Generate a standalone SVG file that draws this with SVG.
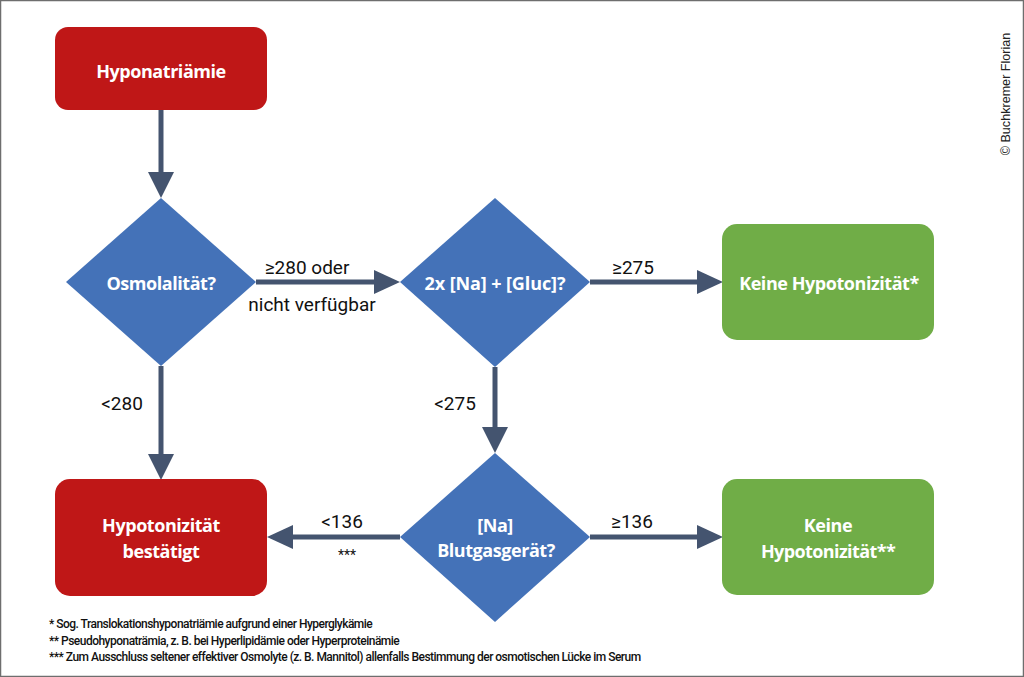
<svg xmlns="http://www.w3.org/2000/svg" width="1024" height="677" viewBox="0 0 1024 677">
<style>
text{font-family:"Roboto","Liberation Sans",sans-serif;text-anchor:middle}
.w{fill:#fff;font-weight:700;font-size:18px;font-family:"Open Sans","Liberation Sans",sans-serif;letter-spacing:-.45px}
.l{fill:#111;font-size:19px}
.f{fill:#111;font-size:12px;font-weight:500;text-anchor:start;letter-spacing:-.52px}
.red{fill:#bf1717}.grn{fill:#70ad47}.blu{fill:#4472b8}
.c{stroke:#44546f;stroke-width:5;fill:none}
.h{fill:#44546f}
</style>
<rect x="0.5" y="0.5" width="1023" height="676" fill="#fff" stroke="#6e6e6e" stroke-width="1.5"/>
<g id="connectors">
<path class="c" d="M161 110V174"/><path class="h" d="M148 172H174L161 198Z"/>
<path class="c" d="M161 366V455"/><path class="h" d="M148 454H174L161 480Z"/>
<path class="c" d="M256 282H375"/><path class="h" d="M374 270V294L400 282Z"/>
<path class="c" d="M590 282H698"/><path class="h" d="M697 270V294L723 282Z"/>
<path class="c" d="M495 367V429"/><path class="h" d="M482 427H508L495 453Z"/>
<path class="c" d="M400 537H291"/><path class="h" d="M293 525V549L267 537Z"/>
<path class="c" d="M590 537H698"/><path class="h" d="M697 525V549L723 537Z"/>
</g>
<g id="n1"><rect class="red" x="55" y="27" width="212" height="83" rx="13"/><text class="w" x="161" y="78">Hyponatriämie</text></g>
<g id="n2"><path class="blu" d="M161 198L256 282L161 366L66 282Z"/><text class="w" x="161" y="290">Osmolalität?</text></g>
<g id="n3"><path class="blu" d="M495 198L590 282L495 367L400 282Z"/><text class="w" x="495" y="290" style="letter-spacing:-.1px">2x [Na] + [Gluc]?</text></g>
<g id="n4"><rect class="grn" x="722" y="224" width="212" height="116" rx="15"/><text class="w" x="829" y="290">Keine Hypotonizität*</text></g>
<g id="n5"><rect class="red" x="55" y="479" width="212" height="117" rx="15"/><text class="w" x="161" y="532">Hypotonizität</text><text class="w" x="161" y="558">bestätigt</text></g>
<g id="n6"><path class="blu" d="M495 453L590 537L495 622L400 537Z"/><text class="w" x="495" y="532">[Na]</text><text class="w" x="496" y="557">Blutgasgerät?</text></g>
<g id="n7"><rect class="grn" x="722" y="479" width="212" height="116" rx="15"/><text class="w" x="828" y="532">Keine</text><text class="w" x="828" y="558" style="letter-spacing:-.6px">Hypotonizität**</text></g>
<g id="labels">
<text class="l" x="307" y="274">≥280 oder</text>
<text class="l" x="312" y="311">nicht verfügbar</text>
<text class="l" x="633" y="274">≥275</text>
<text class="l" x="122" y="410">&lt;280</text>
<text class="l" x="455" y="410">&lt;275</text>
<text class="l" x="342" y="528">&lt;136</text>
<text class="l" x="347" y="560" style="font-size:14px">***</text>
<text class="l" x="632" y="528">≥136</text>
<text class="f" x="49" y="628">* Sog. Translokationshyponatriämie aufgrund einer Hyperglykämie</text>
<text class="f" x="49" y="645">** Pseudohyponaträmia, z. B. bei Hyperlipidämie oder Hyperproteinämie</text>
<text class="f" x="49" y="661">*** Zum Ausschluss seltener effektiver Osmolyte (z. B. Mannitol) allenfalls Bestimmung der osmotischen Lücke im Serum</text>
<text x="1010" y="94" transform="rotate(-90 1010 94)" style="font-family:'Liberation Sans',sans-serif;font-size:12.6px;fill:#222">© Buchkremer Florian</text>
</g>
</svg>
